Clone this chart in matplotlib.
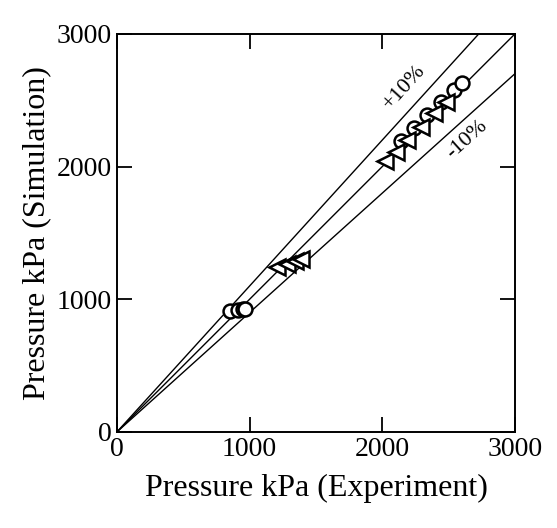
import numpy as np
import matplotlib
matplotlib.use("Agg")
import matplotlib.pyplot as plt

plt.rcParams['font.family'] = ['Liberation Serif', 'DejaVu Serif']

# experiment vs simulation pressures (kPa)
circ_exp = [852, 914, 947, 965, 2140, 2240, 2340, 2440, 2540, 2600]
circ_sim = [910, 920, 926, 930, 2190, 2290, 2390, 2490, 2580, 2630]
tri_exp = [1203, 1279, 1341, 1391, 2020, 2100, 2190, 2290, 2390, 2480]
tri_sim = [1240, 1262, 1285, 1305, 2040, 2110, 2200, 2300, 2400, 2490]

ref_x = [0, 3000]
ratios = [1.0, 1.1, 0.9]
ticks = [0, 1000, 2000, 3000]

fig = plt.figure(figsize=(5.57, 5.28), dpi=100)
ax = fig.add_axes([0.210, 0.182, 0.7145, 0.7538])

for r in ratios:
    ax.plot(ref_x, [v * r for v in ref_x], color='black', lw=1.0, zorder=1)

ax.plot(circ_exp, circ_sim, ls='none', marker='o', ms=10, mfc='white',
        mec='black', mew=1.8, zorder=3)
ax.plot(tri_exp, tri_sim, ls='none', marker='<', ms=11, mfc='white',
        mec='black', mew=1.8, zorder=4)

ax.text(2170, 2600, '+10%', rotation=47.7, ha='center', va='center',
        fontsize=16, rotation_mode='anchor')
ax.text(2640, 2200, '-10%', rotation=42, ha='center', va='center',
        fontsize=16, rotation_mode='anchor')

ax.set_xlim(0, 3000)
ax.set_ylim(0, 3000)
ax.set_xticks(ticks)
ax.set_yticks(ticks)
ax.tick_params(direction='in', length=11, width=1.3, labelsize=20,
               top=True, right=True, pad=4)
for s in ax.spines.values():
    s.set_linewidth(1.4)

ax.set_xlabel('Pressure kPa (Experiment)', fontsize=23, labelpad=8)
ax.set_ylabel('Pressure kPa (Simulation)', fontsize=23, labelpad=4)

fig.savefig('out.png', dpi=100)
